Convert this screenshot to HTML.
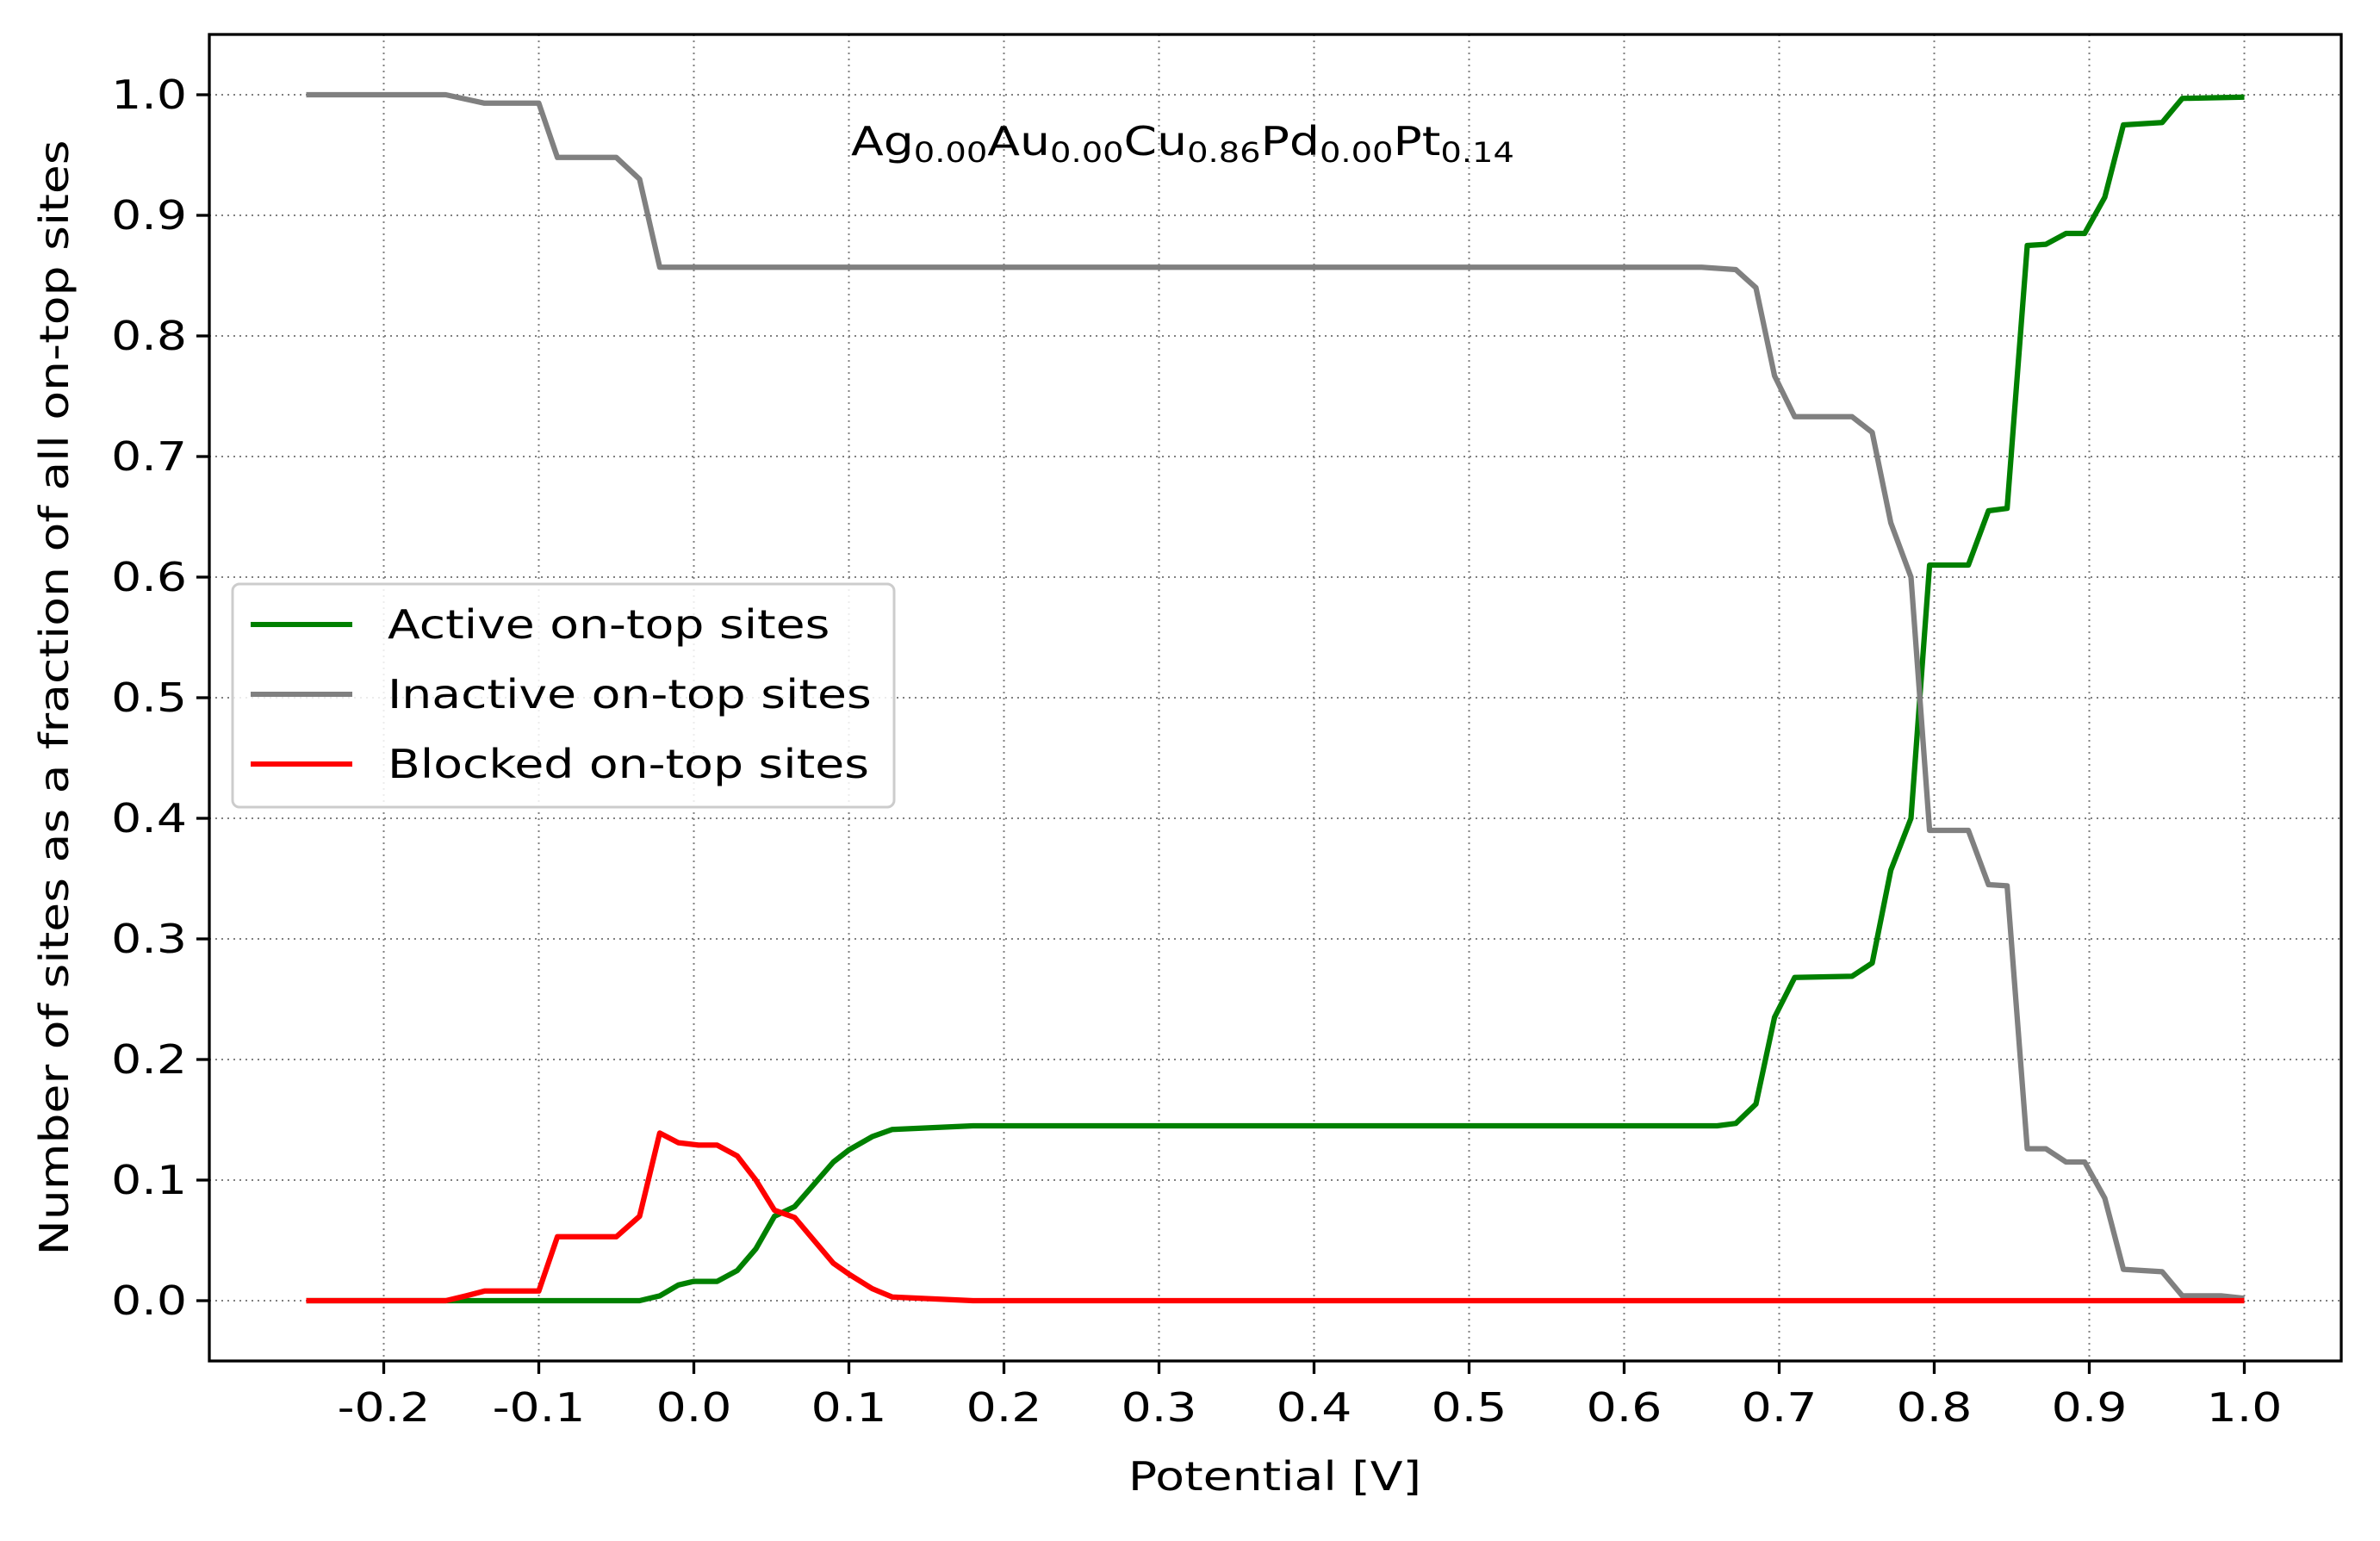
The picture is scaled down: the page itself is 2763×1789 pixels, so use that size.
<!DOCTYPE html>
<html><head><meta charset="utf-8"><style>
html,body{margin:0;padding:0;background:#fff;}
svg{display:block;font-family:"DejaVu Sans","Liberation Sans",sans-serif;}
</style></head><body>
<svg id="chart" width="2763" height="1789" viewBox="0 0 2763 1789" xmlns="http://www.w3.org/2000/svg">
<rect x="0" y="0" width="2763" height="1789" fill="#fff"/>
<g id="grid"></g>
<g id="series"></g>
<rect x="243" y="40" width="2475" height="1540" fill="none" stroke="#000" stroke-width="3.3"/>
<g id="ticks"></g>
<text class="st" x="988" y="180" font-size="46">Ag<tspan font-size="32" dy="8">0.00</tspan><tspan dy="-8">Au</tspan><tspan font-size="32" dy="8">0.00</tspan><tspan dy="-8">Cu</tspan><tspan font-size="32" dy="8">0.86</tspan><tspan dy="-8">Pd</tspan><tspan font-size="32" dy="8">0.00</tspan><tspan dy="-8">Pt</tspan><tspan font-size="32" dy="8">0.14</tspan></text>
<text class="st" x="1480" y="1730" font-size="46" text-anchor="middle">Potential [V]</text>
<text class="st" transform="translate(79,810) rotate(-90)" font-size="46" text-anchor="middle">Number of sites as a fraction of all on-top sites</text>
<g>
<rect x="270" y="678" width="768" height="259" rx="8" fill="#fff" fill-opacity="0.85" stroke="#ccc" stroke-width="3"/>
<line x1="291" y1="725" x2="409" y2="725" stroke="#008000" stroke-width="6"/>
<text class="st" x="450" y="741" font-size="46">Active on-top sites</text>
<line x1="291" y1="806" x2="409" y2="806" stroke="#808080" stroke-width="6"/>
<text class="st" x="450" y="822" font-size="46">Inactive on-top sites</text>
<line x1="291" y1="887" x2="409" y2="887" stroke="#ff0000" stroke-width="6"/>
<text class="st" x="450" y="903" font-size="46">Blocked on-top sites</text>
</g>
</svg>
<script>
const xTicks = [-0.2,-0.1,0.0,0.1,0.2,0.3,0.4,0.5,0.6,0.7,0.8,0.9,1.0];
const xTickLabels = ["-0.2","-0.1","0.0","0.1","0.2","0.3","0.4","0.5","0.6","0.7","0.8","0.9","1.0"];
const yTicks = [0,0.1,0.2,0.3,0.4,0.5,0.6,0.7,0.8,0.9,1.0];
const yTickLabels = ["0.0","0.1","0.2","0.3","0.4","0.5","0.6","0.7","0.8","0.9","1.0"];
const inactiveX = [-0.25,-0.16,-0.135,-0.1,-0.088,-0.05,-0.035,-0.022,0.65,0.672,0.685,0.697,0.71,0.747,0.76,0.772,0.785,0.797,0.822,0.835,0.847,0.86,0.872,0.885,0.897,0.91,0.922,0.947,0.96,0.985,1.0];
const inactiveY = [1.0,1.0,0.993,0.993,0.948,0.948,0.93,0.857,0.857,0.855,0.84,0.767,0.733,0.733,0.72,0.645,0.6,0.39,0.39,0.345,0.344,0.126,0.126,0.115,0.115,0.085,0.026,0.024,0.004,0.004,0.002];
const activeX = [-0.25,-0.035,-0.022,-0.01,0.0,0.015,0.028,0.04,0.052,0.065,0.09,0.1,0.115,0.128,0.18,0.66,0.672,0.685,0.697,0.71,0.747,0.76,0.772,0.785,0.797,0.822,0.835,0.847,0.86,0.872,0.885,0.897,0.91,0.922,0.947,0.96,1.0];
const activeY = [0,0,0.004,0.013,0.016,0.016,0.025,0.043,0.07,0.078,0.115,0.125,0.136,0.142,0.145,0.145,0.147,0.163,0.235,0.268,0.269,0.28,0.357,0.4,0.61,0.61,0.655,0.657,0.875,0.876,0.885,0.885,0.915,0.975,0.977,0.997,0.998];
const blockedX = [-0.25,-0.16,-0.147,-0.135,-0.1,-0.088,-0.05,-0.035,-0.022,-0.01,0.003,0.015,0.028,0.04,0.052,0.065,0.09,0.1,0.115,0.128,0.18,1.0];
const blockedY = [0,0,0.004,0.008,0.008,0.053,0.053,0.07,0.139,0.131,0.129,0.129,0.12,0.1,0.075,0.069,0.031,0.022,0.01,0.003,0,0];

const NS = "http://www.w3.org/2000/svg";
const X0 = 243, X1 = 2718, Y0 = 1580, Y1 = 40;
const xMin = -0.3125, xMax = 1.0625, yMin = -0.05, yMax = 1.05;
function sx(v){ return X0 + (v - xMin) / (xMax - xMin) * (X1 - X0); }
function sy(v){ return Y0 - (v - yMin) / (yMax - yMin) * (Y0 - Y1); }
function mk(tag, attrs, parent){ const e = document.createElementNS(NS, tag); for (const k in attrs) e.setAttribute(k, attrs[k]); parent.appendChild(e); return e; }

const grid = document.getElementById('grid');
const ticks = document.getElementById('ticks');
xTicks.forEach((t, i) => {
  const x = sx(t);
  const g = mk('line', {x1:x, y1:Y1, x2:x, y2:Y0, stroke:'#808080', 'stroke-width':2, 'stroke-dasharray':'2,5'}, grid);
  
  
  const tk = mk('line', {x1:x, y1:Y0, x2:x, y2:Y0+15, stroke:'#000', 'stroke-width':3.3}, ticks);
  
  
  const tx = mk('text', {x:x, y:Y0+70, 'font-size':46, 'text-anchor':'middle', 'class':'st'}, ticks);
  tx.textContent = xTickLabels[i];
  
  
});
yTicks.forEach((t, i) => {
  const y = sy(t);
  const g = mk('line', {x1:X0, y1:y, x2:X1, y2:y, stroke:'#808080', 'stroke-width':2, 'stroke-dasharray':'2,5'}, grid);
  
  
  const tk = mk('line', {x1:X0-15, y1:y, x2:X0, y2:y, stroke:'#000', 'stroke-width':3.3}, ticks);
  
  
  const tx = mk('text', {x:X0-26, y:y+16, 'font-size':46, 'text-anchor':'end', 'class':'st'}, ticks);
  tx.textContent = yTickLabels[i];
  
  
});

const series = document.getElementById('series');
function drawLine(xs, ys, color, name){
  const pts = xs.map((v, i) => sx(v).toFixed(1) + ',' + sy(ys[i]).toFixed(1)).join(' ');
  const p = mk('polyline', {points:pts, fill:'none', stroke:color, 'stroke-width':6.25, 'stroke-linejoin':'round'}, series);
  
  
}
drawLine(activeX, activeY, '#008000', 'active-sites-line');
drawLine(inactiveX, inactiveY, '#808080', 'inactive-sites-line');
drawLine(blockedX, blockedY, '#ff0000', 'blocked-sites-line');

// widen text to match reference glyph widths
document.querySelectorAll('text.st').forEach(el => {
  const w = el.getComputedTextLength();
  if (w > 0) {
    el.setAttribute('textLength', (w * 1.2).toFixed(1));
    el.setAttribute('lengthAdjust', 'spacingAndGlyphs');
  }
});
</script>
</body></html>
